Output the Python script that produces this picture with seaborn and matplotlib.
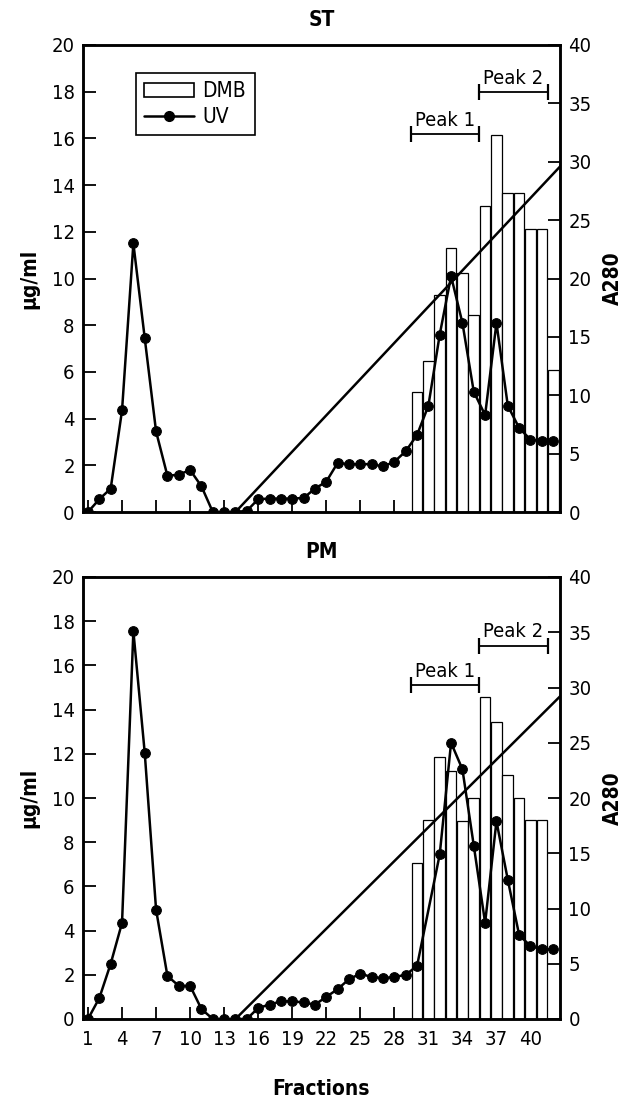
import numpy as np
import pandas as pd
import matplotlib
matplotlib.use("Agg")
import matplotlib.pyplot as plt
import seaborn as sns
from matplotlib.patches import Patch
from matplotlib.lines import Line2D

# ---------------- data ----------------
fractions = list(range(1, 43))

# UV absorbance (A280, right axis)
uv_st = [0, 1.1, 2.0, 8.7, 23.0, 14.9, 6.9, 3.1, 3.2, 3.6,
         2.2, 0, 0, 0, 0.1, 1.1, 1.15, 1.15, 1.15, 1.2,
         2.0, 2.6, 4.2, 4.1, 4.1, 4.1, 3.9, 4.3, 5.2, 6.6,
         9.1, 15.2, 20.2, 16.2, 10.3, 8.3, 16.2, 9.1, 7.2, 6.2,
         6.1, 6.1]
uv_pm = [0, 1.9, 5.0, 8.7, 35.1, 24.1, 9.9, 3.9, 3.0, 3.0,
         0.9, 0, 0, 0, 0, 1.0, 1.3, 1.6, 1.6, 1.5,
         1.3, 2.0, 2.7, 3.6, 4.1, 3.8, 3.7, 3.8, 4.0, 4.8,
         None, 14.9, 25.0, 22.6, 15.7, 8.7, 17.9, 12.6, 7.6, 6.6,
         6.3, 6.3]

# DMB concentration (ug/ml, left axis)
dmb_fraction_st = list(range(30, 43))
dmb_st = [5.13, 6.48, 9.3, 11.3, 10.25, 8.45, 13.1, 16.15, 13.65, 13.65, 12.1, 12.1, 6.1]
dmb_fraction_pm = list(range(30, 42))
dmb_pm = [7.05, 9.0, 11.85, 11.2, 8.95, 10.0, 14.55, 13.45, 11.05, 10.0, 9.0, 9.0]

# gradient line (right-axis units)
gradient_fraction = [14, 43]
gradient_st = [0, 30]
gradient_pm = [0, 29.6]

# peak pools (fractions) and bracket levels (right-axis units)
peak_names = ["Peak 1", "Peak 2"]
peak_start = [30, 36]
peak_end = [35, 41]
peak_level_st = [32.4, 36.0]
peak_level_pm = [30.2, 33.8]

x_ticks = [1, 4, 7, 10, 13, 16, 19, 22, 25, 28, 31, 34, 37, 40]
left_ticks = list(range(0, 21, 2))
right_ticks = list(range(0, 41, 5))

# ---------------- style ----------------
sns.set_theme(style="ticks")
plt.rcParams["font.family"] = ["DejaVu Sans"]
plt.rcParams["font.stretch"] = "condensed"
plt.rcParams["axes.edgecolor"] = "black"
plt.rcParams["text.color"] = "black"
plt.rcParams["axes.labelcolor"] = "black"
plt.rcParams["xtick.color"] = "black"
plt.rcParams["ytick.color"] = "black"

W, H = 632, 1110
fig = plt.figure(figsize=(W / 100, H / 100), dpi=100)

def px_axes(left, top, right, bottom):
    return fig.add_axes([left / W, 1 - bottom / H, (right - left) / W, (bottom - top) / H])

panels = [
    ("ST", px_axes(83, 45, 560, 512), uv_st, dmb_fraction_st, dmb_st, gradient_st, peak_level_st, False),
    ("PM", px_axes(83, 577, 560, 1019), uv_pm, dmb_fraction_pm, dmb_pm, gradient_pm, peak_level_pm, True),
]

for title, ax, uv, dmb_x, dmb_y, grad, peak_lv, show_x in panels:
    ax2 = ax.twinx()

    bars = pd.DataFrame({"fraction": dmb_x, "dmb": dmb_y})
    sns.barplot(data=bars, x="fraction", y="dmb", native_scale=True, width=0.94,
                color="white", saturation=1, edgecolor="black", linewidth=0.9,
                errorbar=None, ax=ax)

    uvdf = pd.DataFrame({"fraction": fractions, "uv": uv}).dropna()
    sns.lineplot(data=uvdf, x="fraction", y="uv", color="black", linewidth=1.8,
                 marker="o", markersize=7, markeredgecolor="black", ax=ax2)

    gdf = pd.DataFrame({"fraction": gradient_fraction, "level": grad})
    sns.lineplot(data=gdf, x="fraction", y="level", color="black", linewidth=1.8, ax=ax2)

    for name, s, e, lv in zip(peak_names, peak_start, peak_end, peak_lv):
        pdf = pd.DataFrame({"fraction": [s - 0.5, e + 0.5], "level": [lv, lv]})
        sns.lineplot(data=pdf, x="fraction", y="level", color="black", linewidth=1.3,
                     marker="|", markersize=11, markeredgewidth=1.6,
                     markeredgecolor="black", ax=ax2)
        ax2.annotate(name, xy=((s + e) / 2, lv), xytext=(0, 3), textcoords="offset points",
                     ha="center", va="bottom", fontsize=14.5)

    for a in (ax, ax2):
        a.set_xlim(0.56, 42.6)
    ax.set_ylim(0, 20)
    ax2.set_ylim(0, 40)
    ax.set_xticks(x_ticks)
    ax.set_yticks(left_ticks)
    ax2.set_yticks(right_ticks)
    ax.tick_params(axis="both", direction="in", length=9, width=1.3, labelsize=14.5, pad=6)
    ax2.tick_params(axis="y", direction="in", length=9, width=1.3, labelsize=14.5, pad=6)
    ax.tick_params(axis="x", pad=8)
    for a in (ax, ax2):
        for sp in a.spines.values():
            sp.set_linewidth(1.8)
            sp.set_color("black")
        a.set_facecolor("none")
    ax.set_facecolor("white")

    ax.set_ylabel("\u03bcg/ml", fontsize=15, fontweight="bold")
    ax.yaxis.set_label_coords(-0.092, 0.5)
    ax2.set_ylabel("A280", fontsize=15, fontweight="bold")
    ax2.yaxis.set_label_coords(1.09, 0.5)
    ax.set_title(title, fontsize=15, fontweight="bold", pad=14)

    if show_x:
        ax.set_xlabel("Fractions", fontsize=15, fontweight="bold")
        ax.xaxis.set_label_coords(0.5, -0.135)
    else:
        ax.set_xlabel("")
        ax.tick_params(axis="x", labelbottom=False)
    ax2.set_xlabel("")

    if title == "ST":
        handles = [Patch(facecolor="white", edgecolor="black", linewidth=1.2, label="DMB"),
                   Line2D([], [], color="black", linewidth=1.8, marker="o", markersize=7, label="UV")]
        leg = ax2.legend(handles=handles, loc="upper left", bbox_to_anchor=(0.111, 0.94),
                         borderaxespad=0, fancybox=False, framealpha=1, edgecolor="black",
                         fontsize=15, handlelength=2.4, handleheight=0.6, labelspacing=0.25,
                         borderpad=0.4, handletextpad=0.4)
        leg.get_frame().set_linewidth(1.2)

fig.savefig("out.png", dpi=100, facecolor="white")
